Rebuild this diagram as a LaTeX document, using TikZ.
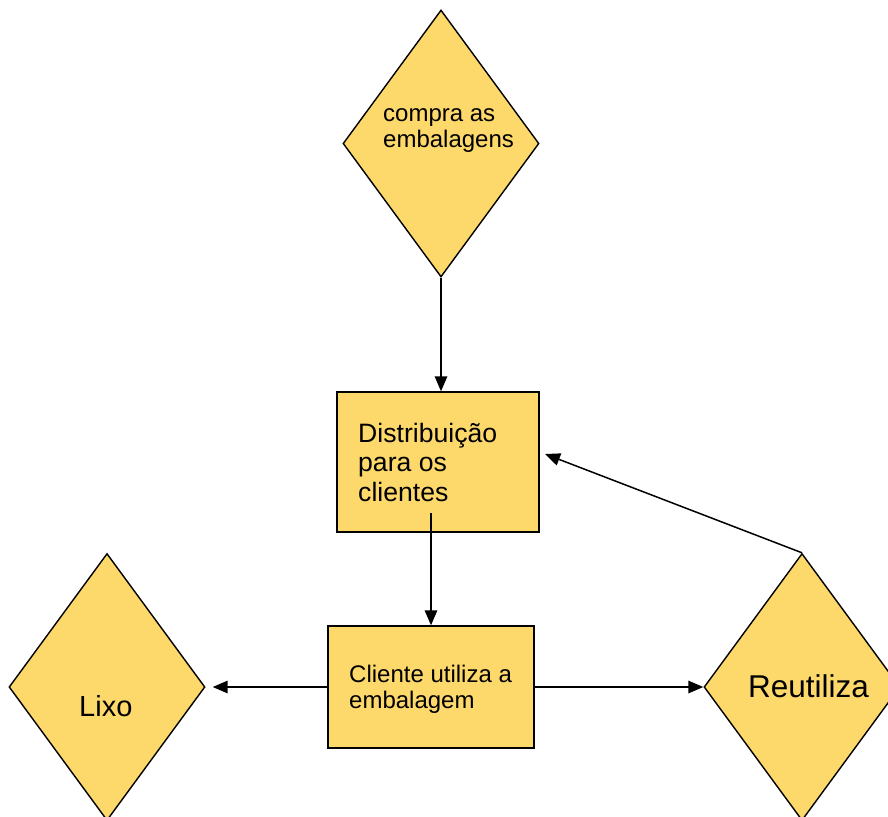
\documentclass[tikz,border=0pt]{standalone}
\usepackage{fontspec}
\setmainfont{Liberation Sans}
\usetikzlibrary{shapes.geometric,arrows.meta}
\definecolor{boxfill}{RGB}{253,216,106}
\tikzset{
  dia/.style={diamond,draw=black,fill=boxfill,line width=1.4pt,inner sep=0pt,minimum width=196pt,minimum height=267pt},
  rbox/.style={rectangle,draw=black,fill=boxfill,line width=1.4pt,inner sep=0pt},
  lbl/.style={anchor=base west,inner sep=0pt},
  conn/.style={line width=1.5pt,-{Triangle[length=15pt,width=12.5pt]}}
}
\begin{document}
\begin{tikzpicture}[x=1pt,y=-1pt]
\useasboundingbox (0,0) rectangle (888,816);
% shapes
\node[dia] (top) at (441,143.5) {};
\node[dia] (lixo) at (107,687) {};
\node[dia] (reut) at (802,687) {};
\node[rbox,minimum width=202pt,minimum height=140pt] (b1) at (438,462) {};
\node[rbox,minimum width=206pt,minimum height=122pt] (b2) at (431,687) {};
% texts
\node[lbl,font=\fontsize{24}{26}\selectfont] (t1a) at (383,121) {compra as};
\node[lbl,font=\fontsize{24}{26}\selectfont] (t1b) at (383,147) {embalagens};
\node[lbl,font=\fontsize{26.6}{30}\selectfont] (t2a) at (358,442) {Distribuição};
\node[lbl,font=\fontsize{26.6}{30}\selectfont] (t2b) at (358,471) {para os};
\node[lbl,font=\fontsize{26.6}{30}\selectfont] (t2c) at (358,501) {clientes};
\node[lbl,font=\fontsize{24}{26}\selectfont] (t3a) at (349,682) {Cliente utiliza a};
\node[lbl,font=\fontsize{24}{26}\selectfont] (t3b) at (349,708) {embalagem};
\node[lbl,font=\fontsize{29}{32}\selectfont] (t4) at (79,716) {Lixo};
\node[lbl,font=\fontsize{31.5}{34}\selectfont] (t5) at (748,697) {Reutiliza};
% connectors
\coordinate (s2) at (431,513);
\coordinate (back) at (545,454);
\draw[conn] (top.south) -- (top.south |- b1.north);
\draw[conn] (s2) -- (b2.north);
\draw[conn,shorten >=7pt] (b2.west) -- (lixo.east);
\draw[conn] (b2.east) -- (reut.west);
\draw[conn] (reut.north) -- (back);
\end{tikzpicture}
\end{document}
